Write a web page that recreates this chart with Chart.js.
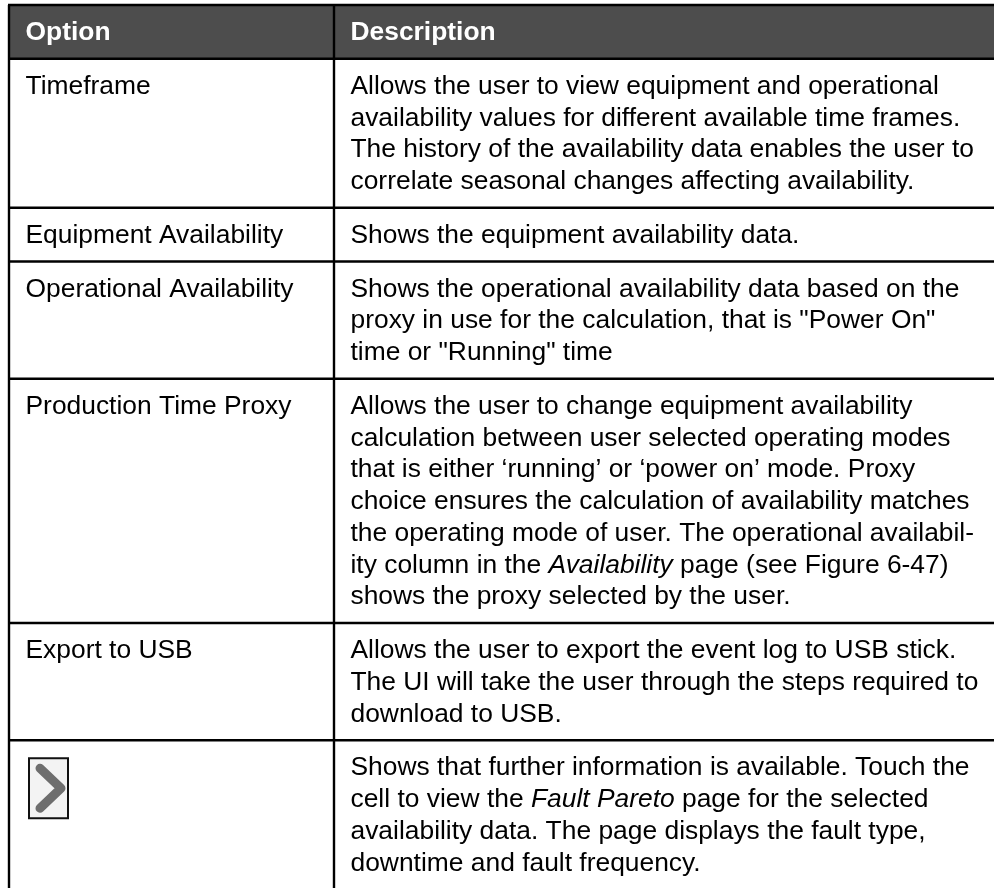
<!DOCTYPE html>
<html><head><meta charset="utf-8">
<script src="https://cdn.jsdelivr.net/npm/chart.js@4.4.1/dist/chart.umd.min.js"></script>
<style>
html,body{margin:0;padding:0;background:#fff;overflow:hidden;}
#wrap{position:absolute;left:0;top:0;width:994px;height:888px;}
</style></head><body>
<div id="wrap"><canvas id="c"></canvas></div>
<script>
// ---- data ----
const headers = ['Option', 'Description'];
const options = ['Timeframe', 'Equipment Availability', 'Operational Availability', 'Production Time Proxy', 'Export to USB', null]; // null = chevron icon
const descTimeframe = ['Allows the user to view equipment and operational', 'availability values for different available time frames.', 'The history of the availability data enables the user to', 'correlate seasonal changes affecting availability.'];
const descEquipment = ['Shows the equipment availability data.'];
const descOperational = ['Shows the operational availability data based on the', 'proxy in use for the calculation, that is "Power On"', 'time or "Running" time'];
const descProxy = ['Allows the user to change equipment availability', 'calculation between user selected operating modes', 'that is either \u2018running\u2019 or \u2018power on\u2019 mode. Proxy', 'choice ensures the calculation of availability matches', 'the operating mode of user. The operational availabil-', 'ity column in the *Availability* page (see Figure 6-47)', 'shows the proxy selected by the user.'];
const descExport = ['Allows the user to export the event log to USB stick.', 'The UI will take the user through the steps required to', 'download to USB.'];
const descChevron = ['Shows that further information is available. Touch the', 'cell to view the *Fault Pareto* page for the selected', 'availability data. The page displays the fault type,', 'downtime and fault frequency.'];
const descriptions = [descTimeframe, descEquipment, descOperational, descProxy, descExport, descChevron];

// ---- layout (in options, not data) ----
const W = 994, H = 888;
const LINE_PX = 31.75;          // one text line
const PAD = 22 / LINE_PX;       // row padding, in line units
const TOP = 5 / LINE_PX;        // table top, in line units
const BASE = 35 / LINE_PX;      // first baseline below row top
const X_LEFT = 9, X_SPLIT = 334, X_RIGHT = 1010;
const TEXT_PAD = 16.5;
const FONT = '"Liberation Sans", Arial, Helvetica, sans-serif';
const FSIZE = 26.4;

// row boundaries (line units) computed from line counts
const rowLines = [1].concat(descriptions.map(d => d.length));
const bounds = [TOP];
rowLines.forEach(n => bounds.push(bounds[bounds.length - 1] + n + PAD));
const BOTTOM = H / LINE_PX + 2;

const datasets = [];
// header fill between two lines
datasets.push({data: [{x: X_LEFT, y: bounds[0]}, {x: X_RIGHT, y: bounds[0]}], showLine: true, pointRadius: 0, borderWidth: 0, borderColor: 'rgba(0,0,0,0)', fill: false, order: 10});
datasets.push({data: [{x: X_LEFT, y: bounds[1]}, {x: X_RIGHT, y: bounds[1]}], showLine: true, pointRadius: 0, borderWidth: 0, borderColor: 'rgba(0,0,0,0)', backgroundColor: '#4d4d4d', fill: '-1', order: 10});
// horizontal borders
bounds.forEach(b => datasets.push({data: [{x: X_LEFT - 1, y: b}, {x: X_RIGHT, y: b}], showLine: true, pointRadius: 0, borderWidth: 2.4, borderColor: '#000', fill: false, order: 1}));
// vertical borders
[X_LEFT, X_SPLIT].forEach(xv => datasets.push({data: [{x: xv, y: bounds[0]}, {x: xv, y: BOTTOM}], showLine: true, pointRadius: 0, borderWidth: 2.4, borderColor: '#000', fill: false, order: 1}));

function drawRich(ctx, str, x, y) {
  const parts = str.split('*');
  let cx = x;
  parts.forEach((p, i) => {
    ctx.font = (i % 2 ? 'italic ' : '') + FSIZE + 'px ' + FONT;
    ctx.fillText(p, cx, y);
    cx += ctx.measureText(p).width;
  });
}

const textPlugin = {
  id: 'tableText',
  afterDatasetsDraw(chart) {
    const ctx = chart.ctx, xs = chart.scales.x, ys = chart.scales.y;
    ctx.save();
    ctx.textBaseline = 'alphabetic';
    ctx.textAlign = 'left';
    // header
    ctx.fillStyle = '#ffffff';
    ctx.font = 'bold ' + FSIZE + 'px ' + FONT;
    const hy = ys.getPixelForValue(bounds[0] + BASE);
    ctx.fillText(headers[0], xs.getPixelForValue(X_LEFT + TEXT_PAD), hy);
    ctx.fillText(headers[1], xs.getPixelForValue(X_SPLIT + TEXT_PAD), hy);
    // body
    ctx.fillStyle = '#000000';
    descriptions.forEach((lines, r) => {
      const top = bounds[r + 1];
      if (options[r] !== null) {
        ctx.font = FSIZE + 'px ' + FONT;
        ctx.fillText(options[r], xs.getPixelForValue(X_LEFT + TEXT_PAD), ys.getPixelForValue(top + BASE));
      } else {
        // chevron icon
        const tp = ys.getPixelForValue(top);
        const bx = xs.getPixelForValue(29), by = tp + 18;
        ctx.fillStyle = '#f3f3f3';
        ctx.fillRect(bx, by, 39, 60);
        ctx.strokeStyle = '#111';
        ctx.lineWidth = 2;
        ctx.strokeRect(bx, by, 39, 60);
        ctx.strokeStyle = '#6e6e6e';
        ctx.lineWidth = 9;
        ctx.lineCap = 'round';
        ctx.lineJoin = 'round';
        ctx.beginPath();
        ctx.moveTo(bx + 11, by + 10);
        ctx.lineTo(bx + 32, by + 30);
        ctx.lineTo(bx + 11, by + 50);
        ctx.stroke();
        ctx.fillStyle = '#000000';
      }
      lines.forEach((ln, j) => {
        drawRich(ctx, ln, xs.getPixelForValue(X_SPLIT + TEXT_PAD), ys.getPixelForValue(top + BASE + j));
      });
    });
    ctx.restore();
  }
};

new Chart(document.getElementById('c'), {
  type: 'scatter',
  data: {datasets},
  options: {
    responsive: true,
    maintainAspectRatio: false,
    animation: false,
    layout: {padding: 0},
    plugins: {legend: {display: false}, tooltip: {enabled: false}, title: {display: false}},
    events: [],
    scales: {
      x: {type: 'linear', min: 0, max: W, display: false},
      y: {type: 'linear', min: 0, max: H / LINE_PX, reverse: true, display: false}
    }
  },
  plugins: [textPlugin]
});
</script>
</body></html>
